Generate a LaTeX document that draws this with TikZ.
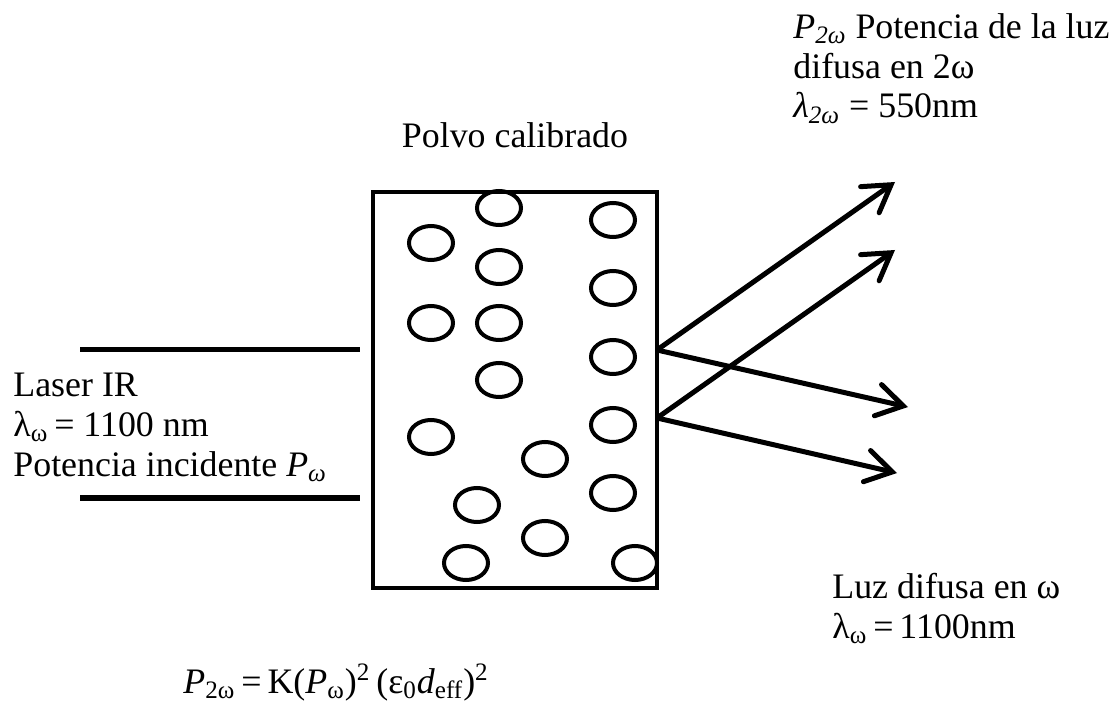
\documentclass[tikz,border=0pt]{standalone}
\usepackage{fontspec}
\setmainfont{Liberation Serif}
\usetikzlibrary{arrows.meta,positioning}

\begin{document}
\begin{tikzpicture}[
  x=0.5bp, y=-0.5bp,
  txt/.style={inner sep=0pt,align=left,font=\fontsize{18}{20}\selectfont},
  grano/.style={line width=2bp},
  haz/.style={line width=2.5bp},
  rayo/.style={line width=2.5bp,-{Straight Barb[length=13bp,width=16bp,line cap=round]}}
]
  \useasboundingbox (0,0) rectangle (1119,707);
  \node[draw,line width=2bp,minimum width=142bp,minimum height=198bp,inner sep=0pt] (polvo) at (515,390) {};
  \node[txt,anchor=base] (titulo) at (515,148) {Polvo calibrado};
  % granos
  \foreach \gx/\gy in {499/208, 613/220, 431/243, 499/267, 613/288, 431/323, 499/323,
      613/357, 499/380, 431/437, 613/425, 545/459, 613/493, 477/505, 545/538, 466/563, 635/563}
    \draw[grano] (\gx,\gy) ellipse [x radius=11bp, y radius=8.5bp];
  % haz laser
  \coordinate (l1a) at (80,350);
  \coordinate (l1b) at (360,350);
  \coordinate (l2a) at (80,498);
  \coordinate (l2b) at (360,498);
  \draw[haz] (l1a) -- (l1b);
  \draw[haz] (l2a) -- (l2b);
  \node[txt,anchor=north west] (laser) at (13,373)
    {Laser IR\\λ\textsubscript{ω}\,= 1100 nm\\Potencia incidente \textit{P}\textsubscript{\textit{ω}}};
  % luz difusa
  \coordinate (s1) at (657,350);
  \coordinate (s2) at (657,418);
  \coordinate (t1) at (895,182);
  \coordinate (t2) at (895,250);
  \coordinate (t3) at (908,407);
  \coordinate (t4) at (897,473);
  \draw[rayo] (s1) -- (t1);
  \draw[rayo] (s1) -- (t3);
  \draw[rayo] (s2) -- (t2);
  \draw[rayo] (s2) -- (t4);
  \node[txt,anchor=north west] (shg) at (793,13)
    {\textit{P}\textsubscript{\textit{2ω}} Potencia de la luz\\difusa en 2ω\\\textit{λ}\textsubscript{\textit{2ω}} = 550nm};
  \node[txt,anchor=north west] (difusa) at (832,573)
    {Luz difusa en ω\\λ\textsubscript{ω}\,=\,1100nm};
  \node[txt,anchor=base west] (formula) at (183,693)
    {\textit{P}\textsubscript{2ω}\,=\,K(\textit{P}\textsubscript{ω})\textsuperscript{2}\,(ε\textsubscript{0}\textit{d}\textsubscript{eff})\textsuperscript{2}};
\end{tikzpicture}
\end{document}
